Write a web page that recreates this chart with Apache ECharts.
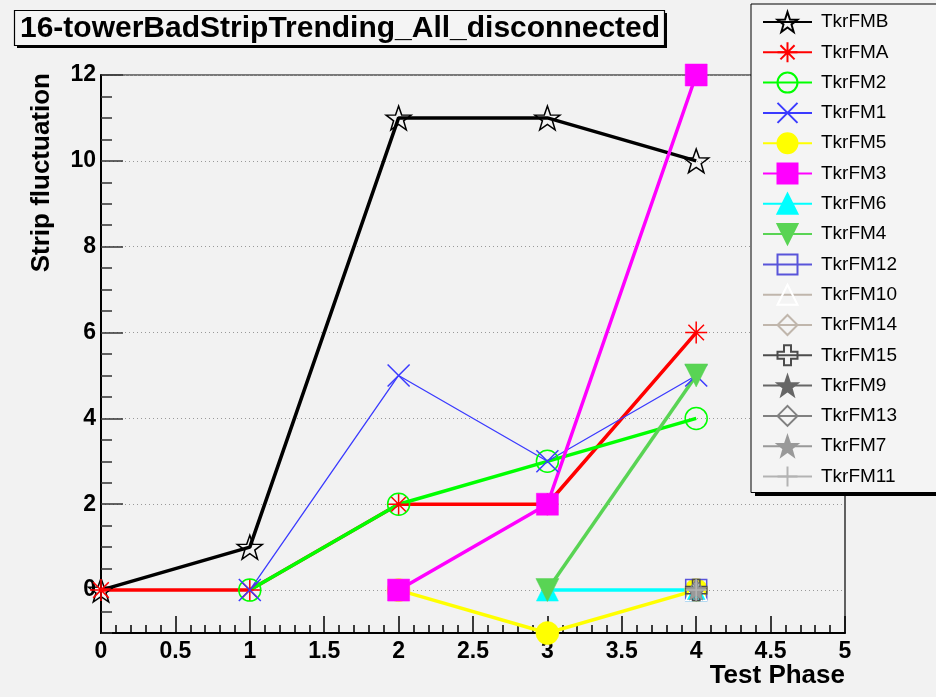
<!DOCTYPE html>
<html>
<head>
<meta charset="utf-8">
<title>16-towerBadStripTrending_All_disconnected</title>
<script src="https://cdn.jsdelivr.net/npm/echarts@6/dist/echarts.min.js"></script>
<style>
  html, body { margin: 0; padding: 0; background: #f2f2f2; }
  #chart { width: 936px; height: 697px; }
</style>
</head>
<body>
<div id="chart"></div>
<script>
// Test phases on the x axis
const phases = [0, 1, 2, 3, 4];

// Strip fluctuation per tower module (null = not measured in that phase)
const tkrFMB  = [0, 1, 11, 11, 10];
const tkrFMA  = [0, 0, 2, 2, 6];
const tkrFM2  = [null, 0, 2, 3, 4];
const tkrFM1  = [null, 0, 5, 3, 5];
const tkrFM5  = [null, null, 0, -1, 0];
const tkrFM3  = [null, null, 0, 2, 12];
const tkrFM6  = [null, null, null, 0, 0];
const tkrFM4  = [null, null, null, 0, 5];
const tkrFM12 = [null, null, null, null, 0];
const tkrFM10 = [null, null, null, null, 0];
const tkrFM14 = [null, null, null, null, 0];
const tkrFM15 = [null, null, null, null, 0];
const tkrFM9  = [null, null, null, null, 0];
const tkrFM13 = [null, null, null, null, 0];
const tkrFM7  = [null, null, null, null, 0];
const tkrFM11 = [null, null, null, null, 0];

// Axis tick values
const yMajorTicks = [0, 2, 4, 6, 8, 10, 12];

// Marker shapes
const STAR = 'path://M0,-10 L2.35,-3.24 L9.51,-3.09 L3.8,1.24 L5.88,8.09 L0,4 L-5.88,8.09 L-3.8,1.24 L-9.51,-3.09 L-2.35,-3.24 Z';
const ASTERISK = 'path://M0,-10 L0,10 M-10,0 L10,0 M-7.07,-7.07 L7.07,7.07 M-7.07,7.07 L7.07,-7.07';
const XMARK = 'path://M-10,-10 L10,10 M-10,10 L10,-10';
const PLUS = 'path://M0,-10 L0,10 M-10,0 L10,0';
const OPENCROSS = 'path://M-3.5,-10 L3.5,-10 L3.5,-3.5 L10,-3.5 L10,3.5 L3.5,3.5 L3.5,10 L-3.5,10 L-3.5,3.5 L-10,3.5 L-10,-3.5 L-3.5,-3.5 Z';

const FONT = '"Liberation Sans", Arial, Helvetica, sans-serif';
const PANEL = '#f4f4f4';

// name, values, line colour, marker colour, marker, size, open marker, line width, rotate
const seriesDefs = [
  ['TkrFMB',  tkrFMB,  '#000000', '#000000', STAR,       25, true,  3.5, 0],
  ['TkrFMA',  tkrFMA,  '#ff0000', '#ff0000', ASTERISK,   22, true,  3.5, 0],
  ['TkrFM2',  tkrFM2,  '#00ff00', '#00ff00', 'circle',   22, true,  3.5, 0],
  ['TkrFM1',  tkrFM1,  '#3a3aff', '#3a3aff', XMARK,      22, true,  1.3, 0],
  ['TkrFM5',  tkrFM5,  '#ffff00', '#ffff00', 'circle',   23, false, 3.5, 0],
  ['TkrFM3',  tkrFM3,  '#ff00ff', '#ff00ff', 'rect',     22, false, 3.5, 0],
  ['TkrFM6',  tkrFM6,  '#00ffff', '#00ffff', 'triangle', 22, false, 3.5, 0],
  ['TkrFM4',  tkrFM4,  '#59d454', '#59d454', 'triangle', 23, false, 3.5, 180],
  ['TkrFM12', tkrFM12, '#5954d9', '#5954d9', 'rect',     21, true,  3.5, 0],
  ['TkrFM10', tkrFM10, '#c0b6ac', '#ffffff', 'triangle', 21, true,  3.5, 0],
  ['TkrFM14', tkrFM14, '#c0b6ac', '#c0b6ac', 'diamond',  21, true,  3.5, 0],
  ['TkrFM15', tkrFM15, '#4c4c4c', '#4c4c4c', OPENCROSS,  21, true,  3.5, 0],
  ['TkrFM9',  tkrFM9,  '#666666', '#666666', STAR,       21, false, 3.5, 0],
  ['TkrFM13', tkrFM13, '#808080', '#808080', 'diamond',  21, true,  3.5, 0],
  ['TkrFM7',  tkrFM7,  '#999999', '#999999', STAR,       21, false, 3.5, 0],
  ['TkrFM11', tkrFM11, '#b3b3b3', '#b3b3b3', PLUS,       21, true,  3.5, 0]
];

function toPoints(values) {
  const pts = [];
  values.forEach((v, i) => { if (v !== null) pts.push([phases[i], v]); });
  return pts;
}

const series = seriesDefs.map(([name, values, lineColor, markColor, symbol, size, open, lw, rot]) => ({
  name: name,
  type: 'line',
  data: toPoints(values),
  symbol: symbol,
  symbolSize: symbol === 'diamond' ? [14, size] : size,
  symbolRotate: rot,
  symbolKeepAspect: true,
  showAllSymbol: true,
  clip: false,
  animation: false,
  color: lineColor,
  lineStyle: { color: lineColor, width: lw },
  itemStyle: open
    ? { color: 'transparent', borderColor: markColor, borderWidth: 1.5 }
    : { color: markColor, borderColor: markColor, borderWidth: 0.5 },
  emphasis: { disabled: true }
}));

const chart = echarts.init(document.getElementById('chart'), null, { renderer: 'canvas' });

chart.setOption({
  backgroundColor: '#f2f2f2',
  animation: false,
  // drop shadows of the title and legend panels (bottom and right edges)
  graphic: [
    {
      type: 'rect', z: 1, silent: true,
      shape: { x: 17, y: 13, width: 650, height: 35 },
      style: { fill: '#000' }
    },
    {
      type: 'rect', z: 1, silent: true,
      shape: { x: 755, y: 7, width: 400, height: 489 },
      style: { fill: '#000' }
    }
  ],
  title: {
    text: '16-towerBadStripTrending_All_disconnected',
    left: 14,
    top: 10,
    z: 6,
    padding: [3, 5, 2, 6],
    backgroundColor: PANEL,
    borderColor: '#000',
    borderWidth: 1.2,
    textStyle: { fontFamily: FONT, fontSize: 30, lineHeight: 31, fontWeight: 'bold', color: '#000' }
  },
  legend: {
    orient: 'vertical',
    left: 751,
    top: 4,
    z: 4,
    padding: [7, 130, 5, 11],
    itemWidth: 49,
    itemHeight: 25,
    itemGap: 8.3,
    selectedMode: false,
    backgroundColor: PANEL,
    borderColor: '#000',
    borderWidth: 1,
    textStyle: { fontFamily: FONT, fontSize: 19, color: '#000', padding: [0, 0, 0, 4] },
    data: seriesDefs.map(d => d[0])
  },
  grid: {
    left: 101, right: 91, top: 75, bottom: 64,
    show: true,
    borderColor: '#000',
    borderWidth: 1.2,
    backgroundColor: 'transparent'
  },
  xAxis: {
    type: 'value',
    min: 0, max: 5, interval: 0.5,
    name: 'Test Phase',
    nameLocation: 'end',
    nameGap: 0,
    nameMoveOverlap: false,
    nameTextStyle: {
      fontFamily: FONT, fontSize: 26, fontWeight: 'bold', color: '#000',
      align: 'right', verticalAlign: 'top', padding: [30, 0, 0, 0]
    },
    axisLine: { show: true, onZero: false, lineStyle: { color: '#000', width: 2 } },
    axisTick: { show: true, inside: true, length: 17, lineStyle: { color: '#000', width: 1.5 } },
    minorTick: { show: true, splitNumber: 5, length: 8, lineStyle: { color: '#000', width: 1.5 } },
    axisLabel: { fontFamily: FONT, fontSize: 23, fontWeight: 'bold', color: '#000', margin: 7 },
    splitLine: { show: false }
  },
  yAxis: [
    {
      type: 'value',
      min: -1, max: 12,
      name: 'Strip fluctuation',
      nameLocation: 'end',
      nameRotate: 90,
      nameGap: 2,
      nameMoveOverlap: false,
      nameTextStyle: {
        fontFamily: FONT, fontSize: 26, fontWeight: 'bold', color: '#000',
        align: 'right', verticalAlign: 'bottom', padding: [0, 0, 46, 0]
      },
      axisLine: { show: true, onZero: false, lineStyle: { color: '#000', width: 2 } },
      axisTick: { show: true, inside: true, length: 22, customValues: yMajorTicks, lineStyle: { color: '#333', width: 1.5 } },
      axisLabel: { customValues: yMajorTicks, fontFamily: FONT, fontSize: 23, fontWeight: 'bold', color: '#000', margin: 5 },
      splitLine: { show: true, lineStyle: { color: '#999', width: 1, type: [1, 3] } }
    },
    {
      // secondary axis carrying the half-unit minor ticks
      type: 'value',
      min: -1, max: 12, interval: 0.5,
      position: 'left',
      axisLine: { show: false },
      axisTick: { show: true, inside: true, length: 11, lineStyle: { color: '#333', width: 1.5 } },
      axisLabel: { show: false },
      splitLine: { show: false }
    }
  ],
  series: series
});
</script>
</body>
</html>
